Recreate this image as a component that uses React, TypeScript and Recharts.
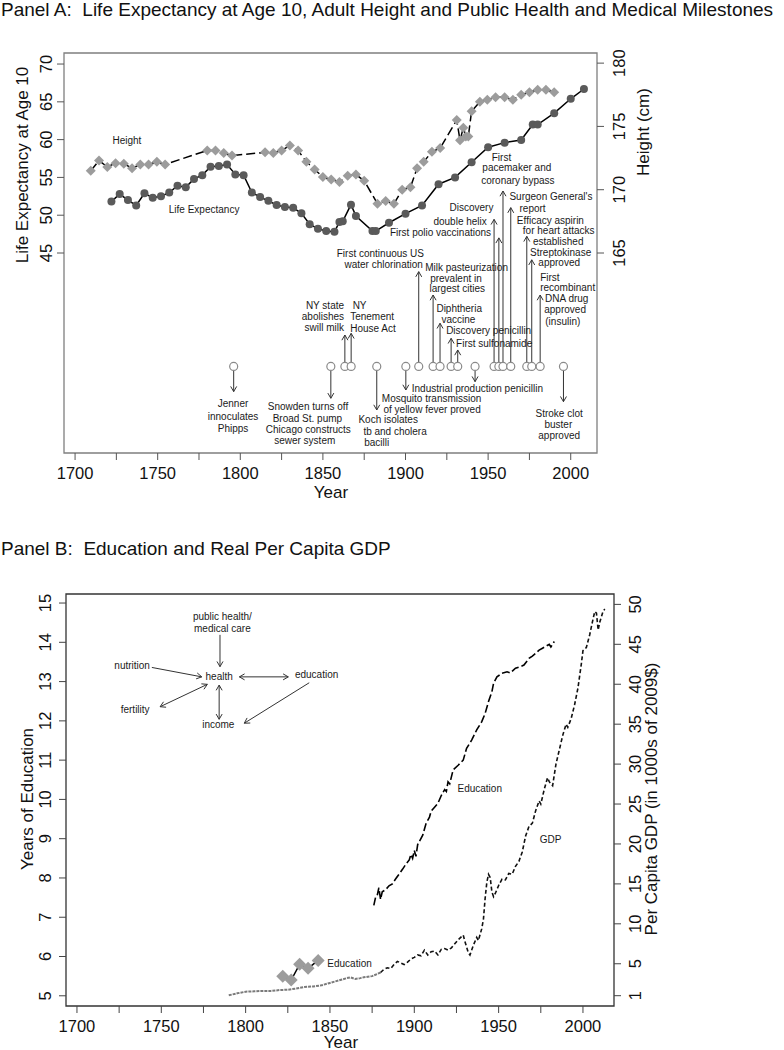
import React from 'react';
import { ComposedChart, Line, Scatter, XAxis, YAxis, ReferenceLine, ReferenceArea } from 'recharts';

const FONT = '"Liberation Sans", Arial, Helvetica, sans-serif';

// ---------------- Panel A data ----------------
const yearTicks = [1700, 1725, 1750, 1775, 1800, 1825, 1850, 1875, 1900, 1925, 1950, 1975, 2000];
const lifeExpTicks = [45, 50, 55, 60, 65, 70];
const heightTicks = [165, 170, 175, 180];

const lifeExpYears = [1722, 1727, 1732, 1737, 1742, 1747, 1752, 1757, 1762, 1767, 1772, 1777, 1782, 1787, 1792, 1797, 1802, 1807, 1812, 1817, 1822, 1827, 1832, 1837, 1842, 1847, 1852, 1857, 1860, 1862, 1867, 1870, 1880, 1882, 1890, 1900, 1910, 1920, 1930, 1940, 1950, 1960, 1970, 1977, 1980, 1990, 2000, 2008];
const lifeExpValues = [51.8, 52.8, 52.0, 51.3, 52.9, 52.3, 52.5, 53.0, 53.9, 53.7, 54.8, 55.3, 56.4, 56.5, 56.7, 55.4, 55.3, 53.0, 52.4, 51.9, 51.35, 51.1, 51.0, 50.25, 48.8, 48.2, 47.9, 47.8, 49.1, 49.2, 51.4, 49.9, 47.9, 47.9, 49.0, 50.2, 51.3, 54.1, 55.0, 57.0, 59.0, 59.6, 59.95, 62.0, 62.0, 63.5, 65.4, 66.7];

const heightYears = [1709.5, 1714.5, 1719.5, 1724.5, 1729.5, 1734.5, 1739.5, 1744.5, 1749.5, 1754.5, 1780, 1785, 1790, 1795, 1815, 1820, 1825, 1830, 1835, 1840, 1845, 1850, 1855, 1860, 1865, 1870, 1875, 1883, 1888, 1893, 1898, 1903, 1907, 1911, 1916, 1921, 1931, 1933, 1935, 1936.5, 1938, 1940, 1945, 1949.5, 1954.5, 1960, 1965, 1970, 1975, 1980, 1985, 1990];
const heightValues = [171.5, 172.3, 171.8, 172.1, 172.05, 171.7, 172.0, 172.0, 172.2, 172.0, 173.1, 173.1, 172.9, 172.7, 172.95, 172.9, 173.1, 173.5, 173.1, 172.2, 171.6, 171.0, 170.8, 170.6, 171.1, 171.2, 170.7, 168.9, 169.1, 168.9, 170.0, 170.2, 171.7, 172.2, 173.0, 173.3, 175.5, 173.9, 174.9, 174.2, 174.2, 176.2, 176.95, 177.1, 177.3, 177.3, 177.1, 177.5, 177.7, 177.9, 177.9, 177.7];

// milestone row sits at life-expectancy level 30
const milestoneLevel = 30;
const milestoneYears = [1796, 1854.8, 1863.3, 1867.1, 1882.6, 1900.2, 1908, 1916.7, 1920.9, 1927.6, 1931.6, 1942.1, 1953.6, 1956.5, 1959, 1963.7, 1973.4, 1976.4, 1981.5, 1995.6];
const milestoneArrowEnds = [26.66, 25.78, 34.15, 34.37, 24.23, 26.88, 42.53, 39.44, 35.7, 33.71, 32.17, 27.98, 49.45, 47.0, 53.2, 51.0, 47.2, 44.1, 39.44, 25.33];

// [text, year, level, anchor]
const milestoneLabels: [string, number, number, string][] = [
  ['Jenner', 1795.6, 25.12, 'middle'],
  ['innoculates', 1795.6, 23.35, 'middle'],
  ['Phipps', 1795.6, 21.8, 'middle'],
  ['Snowden turns off', 1841, 24.67, 'middle'],
  ['Broad St. pump', 1840.6, 23.04, 'middle'],
  ['Chicago constructs', 1841.2, 21.59, 'middle'],
  ['sewer system', 1839, 20.13, 'middle'],
  ['NY state', 1862.8, 37.99, 'end'],
  ['abolishes', 1862.8, 36.58, 'end'],
  ['swill milk', 1862.8, 35.17, 'end'],
  ['NY', 1868, 38.12, 'start'],
  ['Tenement', 1866.5, 36.58, 'start'],
  ['House Act', 1866.5, 35.03, 'start'],
  ['Koch isolates', 1871.5, 23.0, 'start'],
  ['tb and cholera', 1874.5, 21.37, 'start'],
  ['bacilli', 1875, 19.95, 'start'],
  ['Mosquito transmission', 1915.8, 25.69, 'middle'],
  ['of yellow fever proved', 1916.1, 24.23, 'middle'],
  ['Industrial production penicillin', 1943.5, 27.1, 'middle'],
  ['First continuous US', 1911.2, 44.95, 'end'],
  ['water chlorination', 1910.5, 43.54, 'end'],
  ['Milk pasteurization', 1911.9, 43.06, 'start'],
  ['prevalent in', 1914.9, 41.65, 'start'],
  ['largest cities', 1914.5, 40.32, 'start'],
  ['Diphtheria', 1932.5, 37.68, 'middle'],
  ['vaccine', 1932, 36.22, 'middle'],
  ['Discovery penicillin', 1924.6, 34.72, 'start'],
  ['First sulfonamide', 1930.6, 33.05, 'start'],
  ['Discovery', 1953.2, 51.0, 'end'],
  ['double helix', 1949.2, 49.23, 'end'],
  ['First polio vaccinations', 1951.8, 47.69, 'end'],
  ['First', 1952.2, 57.66, 'start'],
  ['pacemaker and', 1946.5, 56.29, 'start'],
  ['coronary bypass', 1945.8, 54.53, 'start'],
  ["Surgeon General's", 1962.9, 52.54, 'start'],
  ['report', 1969, 50.9, 'start'],
  ['Efficacy aspirin', 1967.4, 49.3, 'start'],
  ['for heart attacks', 1971, 48.0, 'start'],
  ['established', 1977.1, 46.55, 'start'],
  ['Streptokinase', 1975.4, 45.04, 'start'],
  ['approved', 1980.4, 43.7, 'start'],
  ['First', 1981.5, 41.78, 'start'],
  ['recombinant', 1981.5, 40.41, 'start'],
  ['DNA drug', 1997.6, 39.0, 'middle'],
  ['approved', 1996.6, 37.46, 'middle'],
  ['(insulin)', 1995.2, 35.92, 'middle'],
  ['Stroke clot', 1993, 23.8, 'middle'],
  ['buster', 1992.5, 22.3, 'middle'],
  ['approved', 1993, 20.9, 'middle'],
];

const seriesLabelsA: [string, number, number, string][] = [
  ['Height', 1731.4, 59.85, 'middle'],
  ['Life Expectancy', 1778.1, 50.7, 'middle'],
];

// ---------------- Panel B data ----------------
const eduTicks = [5, 6, 7, 8, 9, 10, 11, 12, 13, 14, 15];
const gdpTicks = [1, 5, 10, 15, 20, 25, 30, 35, 40, 45, 50];

const earlyEduYears = [1822, 1827, 1832, 1837, 1843];
const earlyEduValues = [5.5, 5.4, 5.8, 5.7, 5.9];

const eduYears = [1876, 1877, 1878, 1879, 1880, 1881, 1883, 1885, 1887, 1889, 1891, 1893, 1895, 1897, 1898, 1899, 1900, 1901, 1902, 1905, 1907, 1909, 1910, 1912, 1914, 1916, 1918, 1919, 1920, 1921, 1923, 1926, 1929, 1931, 1934, 1937, 1940, 1942, 1944, 1946, 1947, 1949, 1952, 1955, 1957, 1960, 1963, 1965, 1968, 1970, 1972, 1974, 1976, 1978, 1980, 1981, 1983];
const eduValues = [7.3, 7.5, 7.55, 7.75, 7.45, 7.65, 7.7, 7.8, 7.85, 7.98, 8.1, 8.22, 8.35, 8.46, 8.6, 8.5, 8.7, 8.55, 8.85, 9.09, 9.39, 9.55, 9.7, 9.8, 9.9, 10.1, 10.25, 10.2, 10.45, 10.4, 10.75, 10.87, 11.0, 11.3, 11.51, 11.77, 11.98, 12.19, 12.49, 12.74, 12.96, 13.12, 13.21, 13.25, 13.22, 13.34, 13.38, 13.42, 13.59, 13.65, 13.72, 13.8, 13.85, 13.9, 13.95, 13.88, 14.02];

const gdpEarlyYears = [1790, 1795, 1800, 1805, 1810, 1815, 1820, 1825, 1830, 1835, 1840, 1845, 1850, 1855, 1860, 1862, 1865, 1868, 1870, 1875, 1880];
const gdpEarlyValues = [1.05, 1.3, 1.5, 1.55, 1.6, 1.6, 1.7, 1.75, 1.9, 2.1, 2.15, 2.3, 2.6, 2.9, 3.2, 3.3, 3.1, 3.2, 3.3, 3.45, 3.9];

const gdpYears = [1880, 1882, 1884, 1886, 1888, 1890, 1892, 1894, 1896, 1898, 1900, 1902, 1904, 1906, 1908, 1910, 1912, 1914, 1916, 1918, 1920, 1922, 1924, 1926, 1929, 1930, 1932, 1933, 1935, 1937, 1938, 1940, 1941, 1942, 1943, 1944, 1945, 1946, 1947, 1948, 1950, 1952, 1954, 1956, 1958, 1960, 1962, 1964, 1966, 1968, 1970, 1972, 1974, 1975, 1977, 1979, 1980, 1982, 1984, 1986, 1988, 1990, 1991, 1993, 1995, 1997, 1999, 2000, 2002, 2004, 2006, 2007, 2008, 2009, 2010, 2012, 2013];
const gdpValues = [3.9, 4.3, 4.5, 4.4, 4.9, 5.3, 5.1, 4.9, 5.2, 5.6, 5.8, 6.1, 6.0, 6.7, 6.1, 6.5, 6.6, 6.1, 6.8, 6.9, 6.7, 7.0, 7.5, 8.0, 8.6, 7.8, 6.4, 6.1, 7.3, 8.3, 7.9, 9.4, 10.6, 13.2, 15.2, 16.2, 15.8, 14.0, 13.4, 13.8, 14.8, 15.6, 15.5, 16.3, 16.2, 17.2, 17.8, 19.0, 21.0, 22.2, 22.6, 24.2, 25.4, 25.0, 26.8, 28.3, 27.8, 27.3, 30.0, 31.8, 33.6, 35.0, 34.6, 35.7, 37.4, 39.5, 42.5, 44.2, 44.6, 46.2, 48.2, 49.1, 48.9, 46.8, 47.8, 49.2, 49.4];

// diagram text in panel B: [text, year, years-of-education level, anchor]
const diagramLabels: [string, number, number, string][] = [
  ['public health/', 1786.2, 14.65, 'middle'],
  ['medical care', 1786.2, 14.36, 'middle'],
  ['nutrition', 1732.7, 13.42, 'middle'],
  ['health', 1784.3, 13.14, 'middle'],
  ['education', 1842.1, 13.17, 'middle'],
  ['fertility', 1734.5, 12.28, 'middle'],
  ['income', 1783.8, 11.91, 'middle'],
  ['Education', 1861.6, 5.82, 'middle'],
  ['Education', 1938.8, 10.28, 'middle'],
  ['GDP', 1980.8, 8.98, 'middle'],
];
// [fromYear, fromLevel, toYear, toLevel, doubleHeaded]
const diagramArrows: [number, number, number, number, boolean][] = [
  [1784.8, 14.19, 1784.8, 13.38, false],
  [1744.4, 13.36, 1774.0, 13.12, false],
  [1796.3, 13.12, 1825.3, 13.12, true],
  [1749.3, 12.36, 1777.3, 12.93, true],
  [1784.3, 12.91, 1784.3, 12.04, true],
  [1837.7, 12.97, 1799.2, 11.94, false],
];

// ---------------- helpers ----------------
const XA: [number, number] = [1693.3, 2015.9];
const LE_DOM: [number, number] = [18.54, 71.46];
const HT_DOM: [number, number] = [149.2, 180.8];
const XB: [number, number] = [1693.5, 2018.4];
const EDU_DOM: [number, number] = [4.74, 15.23];
const GDP_DOM: [number, number] = [-0.29, 51.3];

const pairs = (xs: number[], ys: number[]) => xs.map((x, i) => ({ x, y: ys[i] }));
const labelRows = (rows: [string, number, number, string][]) =>
  rows.map(([text, x, y, anchor]) => ({ x, y, text, anchor }));

const xTick = (dy: number) => (p: any) => {
  const v = p.payload.value;
  if (v % 50 !== 0) return <g />;
  return (
    <text x={p.x} y={p.y + dy} textAnchor="middle" dominantBaseline="central" fontSize={16.5} fontFamily={FONT} fill="#111">
      {v}
    </text>
  );
};

const yTick = (dx: number) => (p: any) => {
  const cx = p.x + dx;
  const cy = p.y;
  return (
    <text x={cx} y={cy} transform={`rotate(-90 ${cx} ${cy})`} textAnchor="middle" dominantBaseline="central" fontSize={16.5} fontFamily={FONT} fill="#111">
      {p.payload.value}
    </text>
  );
};

const diamondDot = (size: number, fill: string) => (p: any) => {
  const { cx, cy, index } = p;
  if (cx == null || cy == null) return <g key={`dm-${index}`} />;
  return <path key={`dm-${index}`} d={`M${cx},${cy - size}L${cx + size},${cy}L${cx},${cy + size}L${cx - size},${cy}Z`} fill={fill} />;
};

const textShape = (size: number) => (p: any) => {
  const d = p.payload;
  return (
    <text x={p.cx} y={p.cy} textAnchor={d.anchor} dominantBaseline="central" fontSize={size} fontFamily={FONT} fill="#1a1a1a">
      {d.text}
    </text>
  );
};

const hollowCircle = (p: any) => <circle cx={p.cx} cy={p.cy} r={4} fill="#fff" stroke="#8a8a8a" strokeWidth={1.2} />;

const arrowShape = (double: boolean) => (p: any) => {
  const { x1, y1, x2, y2 } = p;
  const head = 6;
  const spread = Math.PI / 6;
  const a = Math.atan2(y2 - y1, x2 - x1);
  const hp = (tx: number, ty: number, ang: number) =>
    `M${tx - head * Math.cos(ang - spread)},${ty - head * Math.sin(ang - spread)}L${tx},${ty}L${tx - head * Math.cos(ang + spread)},${ty - head * Math.sin(ang + spread)}`;
  let d = `M${x1},${y1}L${x2},${y2}` + hp(x2, y2, a);
  if (double) d += hp(x1, y1, a + Math.PI);
  return <path d={d} fill="none" stroke="#333" strokeWidth={1} />;
};

const lifeExpData = pairs(lifeExpYears, lifeExpValues);
const heightData = pairs(heightYears, heightValues);
const milestoneData = milestoneYears.map((x) => ({ x, y: milestoneLevel }));
const milestoneTextData = labelRows(milestoneLabels);
const seriesTextA = labelRows(seriesLabelsA);
const eduData = pairs(eduYears, eduValues);
const earlyEduData = pairs(earlyEduYears, earlyEduValues);
const gdpEarlyData = pairs(gdpEarlyYears, gdpEarlyValues);
const gdpData = pairs(gdpYears, gdpValues);
const diagramTextData = labelRows(diagramLabels);

export default function App() {
  return (
    <div style={{ position: 'absolute', left: 0, top: 0, width: 784, height: 1050, background: '#fff', overflow: 'hidden' }}>
      {/* Panel A */}
      <div style={{ position: 'absolute', left: 0, top: 0 }}>
        <ComposedChart width={784} height={533} margin={{ top: 53, right: 0, bottom: 0, left: 0 }}>
          <XAxis
            dataKey="x"
            type="number"
            domain={XA}
            allowDataOverflow
            ticks={yearTicks}
            interval={0}
            height={80}
            axisLine={false}
            tickSize={7}
            tickMargin={2}
            tickLine={{ stroke: '#555' }}
            tick={xTick(11)}
          />
          <YAxis
            yAxisId="le"
            type="number"
            domain={LE_DOM}
            allowDataOverflow
            ticks={lifeExpTicks}
            interval={0}
            width={64}
            axisLine={false}
            tickSize={7}
            tickMargin={2}
            tickLine={{ stroke: '#555' }}
            tick={yTick(-9)}
          />
          <YAxis
            yAxisId="ht"
            orientation="right"
            type="number"
            domain={HT_DOM}
            allowDataOverflow
            ticks={heightTicks}
            interval={0}
            width={187}
            axisLine={false}
            tickSize={7}
            tickMargin={2}
            tickLine={{ stroke: '#555' }}
            tick={yTick(13)}
          />
          <ReferenceArea yAxisId="le" x1={XA[0]} x2={XA[1]} y1={LE_DOM[0]} y2={LE_DOM[1]} fill="none" stroke="#7f7f7f" strokeWidth={1.3} ifOverflow="visible" />
          {milestoneYears.map((yr, i) => {
            const end = milestoneArrowEnds[i];
            const start = end > milestoneLevel ? milestoneLevel + 0.55 : milestoneLevel - 0.55;
            return (
              <ReferenceLine
                key={`ms-${i}`}
                yAxisId="le"
                segment={[{ x: yr, y: start }, { x: yr, y: end }]}
                stroke="#333"
                shape={arrowShape(false)}
              />
            );
          })}
          <Line yAxisId="le" data={lifeExpData} dataKey="y" type="linear" stroke="#000" strokeWidth={1.5} dot={{ r: 4, fill: '#5a5a5a', stroke: '#5a5a5a', strokeWidth: 0 }} isAnimationActive={false} />
          <Line yAxisId="ht" data={heightData} dataKey="y" type="linear" stroke="#000" strokeWidth={1.5} strokeDasharray="9 4" dot={diamondDot(5, '#9c9c9c')} isAnimationActive={false} />
          <Scatter yAxisId="le" data={milestoneData} dataKey="y" shape={hollowCircle} isAnimationActive={false} />
          <Scatter yAxisId="le" data={milestoneTextData} dataKey="y" shape={textShape(10)} isAnimationActive={false} />
          <Scatter yAxisId="le" data={seriesTextA} dataKey="y" shape={textShape(10)} isAnimationActive={false} />
        </ComposedChart>
      </div>

      {/* Panel B */}
      <div style={{ position: 'absolute', left: 0, top: 540 }}>
        <ComposedChart width={784} height={510} margin={{ top: 54, right: 0, bottom: 0, left: 0 }}>
          <XAxis
            dataKey="x"
            type="number"
            domain={XB}
            allowDataOverflow
            ticks={yearTicks}
            interval={0}
            height={44}
            axisLine={false}
            tickSize={7}
            tickMargin={2}
            tickLine={{ stroke: '#444' }}
            tick={xTick(11)}
          />
          <YAxis
            yAxisId="edu"
            type="number"
            domain={EDU_DOM}
            allowDataOverflow
            ticks={eduTicks}
            interval={0}
            width={66}
            axisLine={false}
            tickSize={7}
            tickMargin={2}
            tickLine={{ stroke: '#444' }}
            tick={yTick(-12)}
          />
          <YAxis
            yAxisId="gdp"
            orientation="right"
            type="number"
            domain={GDP_DOM}
            allowDataOverflow
            ticks={gdpTicks}
            interval={0}
            width={170}
            axisLine={false}
            tickSize={7}
            tickMargin={2}
            tickLine={{ stroke: '#444' }}
            tick={yTick(12)}
          />
          <ReferenceArea yAxisId="edu" x1={XB[0]} x2={XB[1]} y1={EDU_DOM[0]} y2={EDU_DOM[1]} fill="none" stroke="#333" strokeWidth={1.3} ifOverflow="visible" />
          {diagramArrows.map(([x1, y1, x2, y2, dbl], i) => (
            <ReferenceLine
              key={`da-${i}`}
              yAxisId="edu"
              segment={[{ x: x1, y: y1 }, { x: x2, y: y2 }]}
              stroke="#333"
              shape={arrowShape(dbl)}
            />
          ))}
          <Line yAxisId="gdp" data={gdpEarlyData} dataKey="y" type="linear" stroke="#7a7a7a" strokeWidth={2} strokeDasharray="3 1" dot={false} isAnimationActive={false} />
          <Line yAxisId="gdp" data={gdpData} dataKey="y" type="linear" stroke="#111" strokeWidth={1.6} strokeDasharray="4 2.5" dot={false} isAnimationActive={false} />
          <Line yAxisId="edu" data={eduData} dataKey="y" type="linear" stroke="#000" strokeWidth={1.6} strokeDasharray="8 3" dot={false} isAnimationActive={false} />
          <Line yAxisId="edu" data={earlyEduData} dataKey="y" type="linear" stroke="#000" strokeWidth={1.5} dot={diamondDot(6.5, '#9c9c9c')} isAnimationActive={false} />
          <Scatter yAxisId="edu" data={diagramTextData} dataKey="y" shape={textShape(10)} isAnimationActive={false} />
        </ComposedChart>
      </div>

      {/* Titles */}
      <svg width={784} height={1050} style={{ position: 'absolute', left: 0, top: 0, pointerEvents: 'none' }}>
        <g fontFamily={FONT} fill="#111">
          <text x={1} y={16} fontSize={19} style={{ whiteSpace: 'pre' }}>
            {'Panel A:  Life Expectancy at Age 10, Adult Height and Public Health and Medical Milestones'}
          </text>
          <text x={1} y={555} fontSize={19} style={{ whiteSpace: 'pre' }}>
            {'Panel B:  Education and Real Per Capita GDP'}
          </text>
          <text x={22} y={165} fontSize={17} textAnchor="middle" dominantBaseline="central" transform="rotate(-90 22 165)">
            Life Expectancy at Age 10
          </text>
          <text x={643} y={132} fontSize={17} textAnchor="middle" dominantBaseline="central" transform="rotate(-90 643 132)">
            Height (cm)
          </text>
          <text x={331} y={492} fontSize={17} textAnchor="middle" dominantBaseline="central">
            Year
          </text>
          <text x={27} y={799} fontSize={17} textAnchor="middle" dominantBaseline="central" transform="rotate(-90 27 799)">
            Years of Education
          </text>
          <text x={651} y={799} fontSize={17} textAnchor="middle" dominantBaseline="central" transform="rotate(-90 651 799)">
            Per Capita GDP (in 1000s of 2009$)
          </text>
          <text x={341} y={1042} fontSize={17} textAnchor="middle" dominantBaseline="central">
            Year
          </text>
        </g>
      </svg>
    </div>
  );
}
